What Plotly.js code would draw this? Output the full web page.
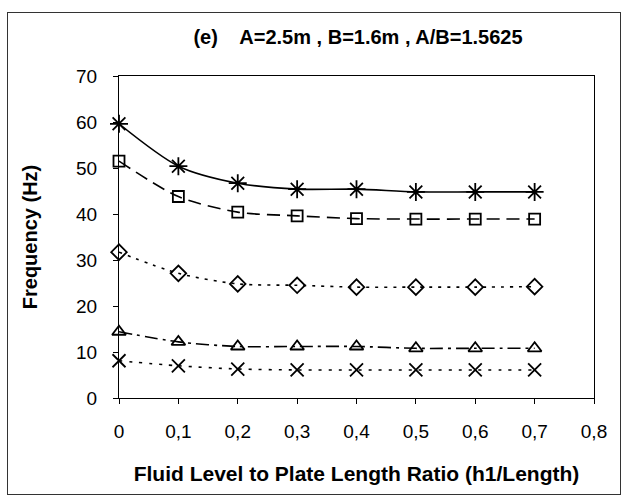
<!DOCTYPE html>
<html>
<head>
<meta charset="utf-8">
<script src="https://cdn.plot.ly/plotly-3.0.1.min.js"></script>
<style>
html,body{margin:0;padding:0;background:#fff;}
#chart{position:absolute;left:0;top:0;width:622px;height:496px;}
#frame{position:absolute;left:7px;top:12px;width:612px;height:481px;border:1px solid #333;pointer-events:none;}
</style>
</head>
<body>
<div id="chart"></div>
<div id="frame"></div>
<script>
const xRatio = [0, 0.1, 0.2, 0.3, 0.4, 0.5, 0.6, 0.7];
const mode5 = [59.6, 50.4, 46.7, 45.4, 45.4, 44.8, 44.8, 44.8];
const mode4 = [51.5, 43.8, 40.4, 39.6, 39.0, 38.9, 38.9, 38.9];
const mode3 = [31.7, 27.1, 24.8, 24.5, 24.1, 24.1, 24.1, 24.2];
const mode2 = [14.4, 12.2, 11.2, 11.2, 11.2, 10.8, 10.8, 10.8];
const mode1 = [8.1, 7.0, 6.3, 6.1, 6.1, 6.1, 6.1, 6.1];
const xTickVals = [0, 0.1, 0.2, 0.3, 0.4, 0.5, 0.6, 0.7, 0.8];
const xTickText = ['0', '0,1', '0,2', '0,3', '0,4', '0,5', '0,6', '0,7', '0,8'];
const yTickVals = [0, 10, 20, 30, 40, 50, 60, 70];

const FONT = 'Liberation Sans, Arial, sans-serif';

function series(y, symbol, size, dash) {
  return {
    x: xRatio, y: y, type: 'scatter', mode: 'lines+markers',
    line: {color: '#000', width: 1.6, dash: dash, shape: 'spline', smoothing: 0.8},
    marker: {symbol: symbol, size: size, color: '#000', line: {color: '#000', width: 1.8}},
    showlegend: false, cliponaxis: false
  };
}

const data = [
  series(mode5, 'asterisk-open', 15, 'solid'),
  series(mode4, 'square-open', 11, '13px,7px'),
  series(mode3, 'diamond-open', 12, '3px,6px'),
  series(mode2, 'triangle-up-open', 12, '13px,5px,3px,5px'),
  series(mode1, 'x-thin-open', 13, '3px,7px')
];

const layout = {
  width: 622, height: 496,
  margin: {l: 119, r: 28, t: 76, b: 98},
  paper_bgcolor: '#fff', plot_bgcolor: '#fff',
  font: {family: FONT, color: '#000', size: 19},
  title: {
    text: '<b>(e)    A=2.5m , B=1.6m , A/B=1.5625</b>',
    font: {family: FONT, size: 20, color: '#000'},
    x: 358 / 622, xanchor: 'center', y: 1 - 37 / 496, yanchor: 'middle'
  },
  xaxis: {
    range: [0, 0.8], tickvals: xTickVals, ticktext: xTickText,
    showgrid: false, zeroline: false,
    showline: true, linecolor: '#000', linewidth: 1, mirror: true,
    ticks: 'outside', ticklen: 5, tickcolor: '#000', tickwidth: 1,
    ticklabelstandoff: 11,
    tickfont: {family: FONT, size: 19, color: '#000'},
    title: {text: '<b>Fluid Level to Plate Length Ratio (h1/Length)</b>',
            font: {family: FONT, size: 21, color: '#000'}, standoff: 25}
  },
  yaxis: {
    range: [0, 70], tickvals: yTickVals,
    showgrid: false, zeroline: false,
    showline: true, linecolor: '#000', linewidth: 1, mirror: true,
    ticks: 'outside', ticklen: 5, tickcolor: '#000', tickwidth: 1,
    ticklabelstandoff: 12,
    tickfont: {family: FONT, size: 19, color: '#000'},
    title: {text: '<b>Frequency (Hz)</b>',
            font: {family: FONT, size: 20, color: '#000'}, standoff: 33}
  }
};

Plotly.newPlot('chart', data, layout, {displayModeBar: false, staticPlot: true});
</script>
</body>
</html>
